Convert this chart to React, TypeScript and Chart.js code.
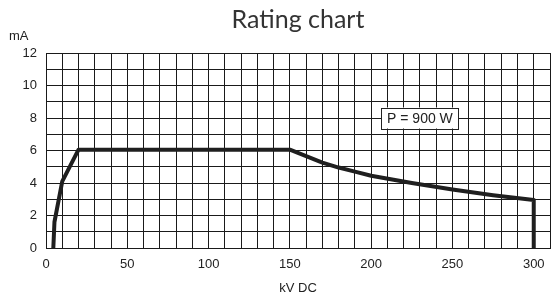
import React, { useEffect, useRef } from "react";
import { Chart, registerables } from "chart.js";

Chart.register(...registerables);

const voltageKV = [4.5, 5.2, 10, 20, 150, 160, 170, 180, 190, 200, 225, 250, 275, 300, 300];
const currentMA = [0, 1.6, 4.1, 6.05, 6.05, 5.65, 5.25, 4.95, 4.7, 4.45, 4.0, 3.6, 3.25, 2.95, 0];
const xTickLabels = [0, 50, 100, 150, 200, 250, 300];
const yTickLabels = [0, 2, 4, 6, 8, 10, 12];
const titleText = "Rating chart";
const yUnit = "mA";
const xTitle = "kV DC";
const noteText = "P = 900 W";
const notePos = { x: 230, y: 8 };

const overlay = {
  id: "overlay",
  afterDatasetsDraw(chart: any) {
    const { ctx, chartArea, scales } = chart;
    ctx.save();
    // title
    ctx.fillStyle = "#333";
    ctx.font = "400 25px Lato";
    ctx.textAlign = "center";
    ctx.textBaseline = "alphabetic";
    ctx.fillText(titleText, (chartArea.left + chartArea.right) / 2, 28);
    // y unit
    ctx.font = "13px 'Liberation Sans'";
    ctx.fillStyle = "#222";
    ctx.textAlign = "left";
    ctx.fillText(yUnit, 9, 40);
    // note box
    const cx = scales.x.getPixelForValue(notePos.x);
    const cy = scales.y.getPixelForValue(notePos.y);
    const w = 77, h = 21;
    ctx.fillStyle = "#fff";
    ctx.fillRect(cx - w / 2, cy - h / 2, w, h);
    ctx.strokeStyle = "#222";
    ctx.lineWidth = 1;
    ctx.strokeRect(Math.round(cx - w / 2) + 0.5, Math.round(cy - h / 2) + 0.5, w, h);
    ctx.fillStyle = "#222";
    ctx.font = "14px 'Liberation Sans'";
    ctx.textAlign = "center";
    ctx.textBaseline = "middle";
    ctx.fillText(noteText, cx, cy + 1);
    ctx.restore();
  },
};

export default function App() {
  const ref = useRef<HTMLCanvasElement>(null);
  useEffect(() => {
    document.body.style.margin = "0";
    const chart = new Chart(ref.current!, {
      type: "line",
      data: {
        datasets: [
          {
            data: voltageKV.map((v, i) => ({ x: v, y: currentMA[i] })),
            borderColor: "#1f1f1f",
            borderWidth: 4,
            pointRadius: 0,
            tension: 0,
            fill: false,
            borderJoinStyle: "round",
          },
        ],
      },
      options: {
        animation: false,
        responsive: false,
        layout: { padding: { top: 53, right: 1, left: 0, bottom: 0 } },
        plugins: { legend: { display: false }, tooltip: { enabled: false }, title: { display: false } },
        scales: {
          x: {
            type: "linear",
            min: 0,
            max: 310,
            afterFit: (s: any) => { s.height = 52; s.paddingRight = 0; s.paddingLeft = 0; },
            ticks: {
              stepSize: 10,
              autoSkip: false,
              maxRotation: 0,
              padding: 9,
              color: "#222",
              font: { family: "'Liberation Sans'", size: 13 },
              callback: (v: any) => (xTickLabels.includes(v) ? String(v) : ""),
            },
            grid: { color: "#1a1a1a", lineWidth: 1, drawTicks: false },
            border: { color: "#1a1a1a" },
            title: { display: true, text: xTitle, color: "#222", font: { family: "'Liberation Sans'", size: 13 }, padding: { top: 4 } },
          },
          y: {
            min: 0,
            max: 12,
            afterFit: (s: any) => { s.width = 46; },
            ticks: {
              stepSize: 1,
              autoSkip: false,
              padding: 9,
              color: "#222",
              font: { family: "'Liberation Sans'", size: 13 },
              callback: (v: any) => (yTickLabels.includes(v) ? String(v) : ""),
            },
            grid: { color: "#1a1a1a", lineWidth: 1, drawTicks: false },
            border: { color: "#1a1a1a" },
          },
        },
      },
      plugins: [overlay],
    });
    return () => chart.destroy();
  }, []);
  return <canvas ref={ref} width={551} height={300} style={{ display: "block" }} />;
}
